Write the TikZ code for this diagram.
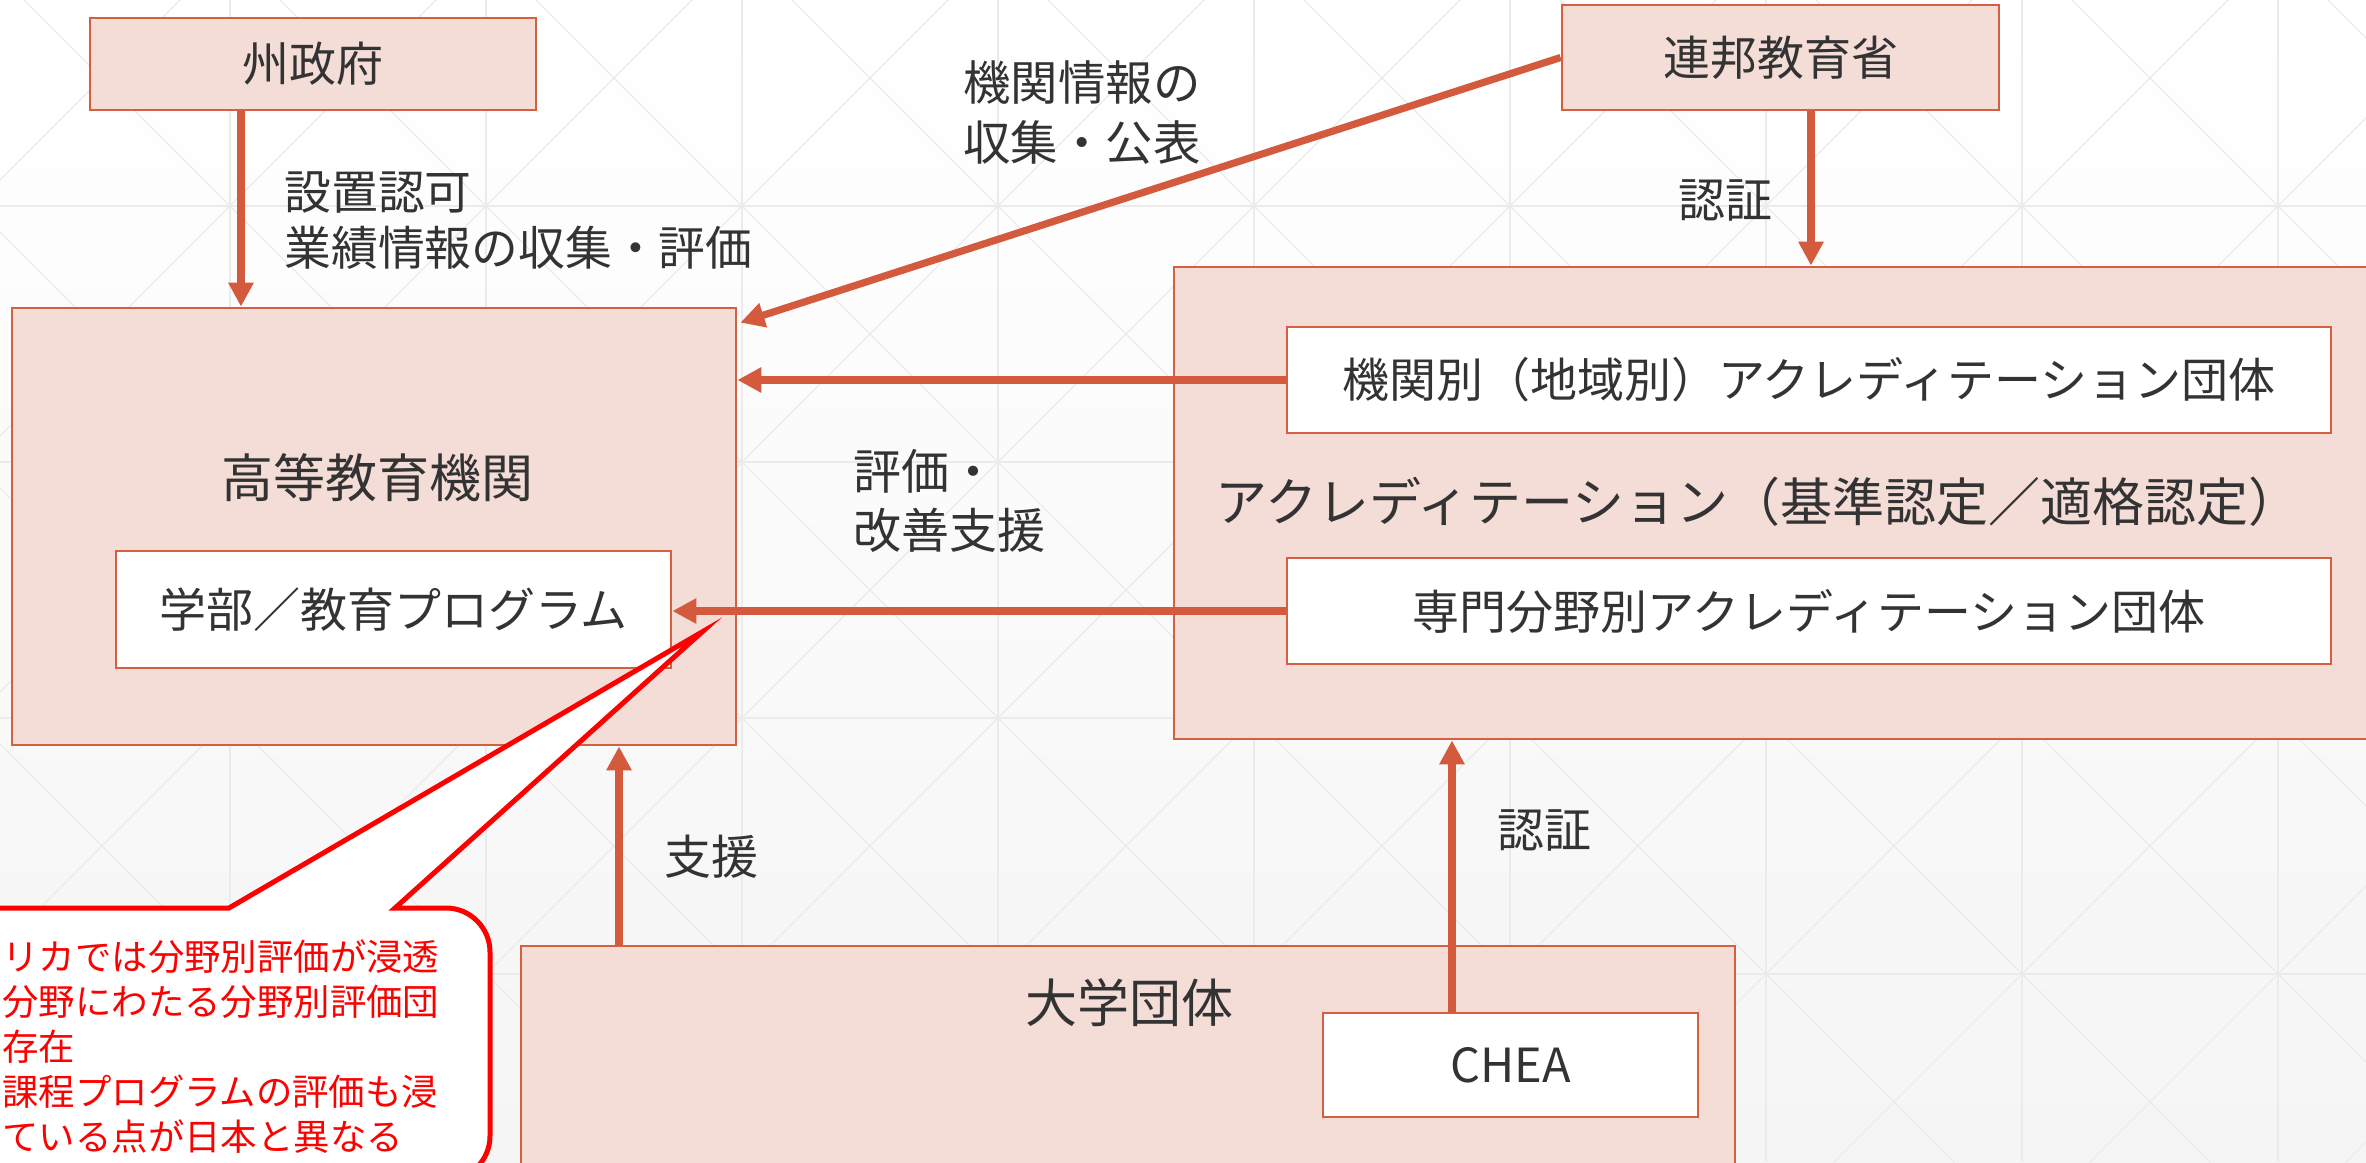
\documentclass[tikz,border=0pt]{standalone}
\usepackage{fontspec}
\setmainfont{Noto Sans CJK JP}
\usetikzlibrary{arrows.meta,calc}
\definecolor{boxfill}{HTML}{F4DDD7}
\definecolor{boxline}{HTML}{D5603F}
\definecolor{arrc}{HTML}{D35A3C}
\definecolor{txt}{HTML}{333333}
\definecolor{gridc}{HTML}{EBEBEB}
\definecolor{calred}{HTML}{FF0000}
\definecolor{bgbot}{HTML}{F5F5F5}
\tikzset{
  pinkbox/.style={draw=boxline, line width=1.4pt, fill=boxfill, inner sep=0pt, text=txt},
  whitebox/.style={draw=boxline, line width=1.4pt, fill=white, inner sep=0pt, text=txt},
  lbl/.style={text=txt, inner sep=0pt, align=left},
  arr/.style={draw=arrc, line width=3.6pt, -{Triangle[length=12pt,width=12pt]}},
  gridln/.style={draw=gridc, line width=0.6pt},
  fa/.style={font=\fontsize{23.5pt}{28pt}\selectfont},
  fb/.style={font=\fontsize{26pt}{30pt}\selectfont},
}
\begin{document}
\begin{tikzpicture}[x=0.5pt,y=-0.5pt]
\useasboundingbox (0,0) rectangle (2366,1162);
\clip (0,0) rectangle (2366,1162);
% background
\shade[top color=white, bottom color=bgbot] (0,0) rectangle (2366,1162);
\foreach \i in {0,...,8} \draw[gridln] ({230+256*\i},0) -- ({230+256*\i},1162);
\foreach \j in {0,...,3} \draw[gridln] (0,{206+256*\j}) -- (2366,{206+256*\j});
\foreach \k in {-10,...,4} \draw[gridln] (-300,{-68+256*\k}) -- (2700,{2932+256*\k});
\foreach \k in {0,...,14} \draw[gridln] (-300,{480+256*\k}) -- (2700,{-2520+256*\k});

% boxes
\node[pinkbox, fa, minimum width=223pt, minimum height=46pt] (shu) at (313,64) {州政府};
\node[pinkbox, fa, minimum width=218.5pt, minimum height=52.5pt] (renpo) at (1780.5,57.5) {連邦教育省};
\node[pinkbox, minimum width=362pt, minimum height=218.5pt] (koto) at (374,526.5) {};
\node[lbl, fb] (kotoT) at (377,478) {高等教育機関};
\node[whitebox, fa, minimum width=277.5pt, minimum height=58.5pt] (gakubu) at (393.5,609.5) {学部／教育プログラム};
\node[pinkbox, minimum width=608pt, minimum height=236pt] (accr) at (1782,503) {};
\node[whitebox, fa, minimum width=522pt, minimum height=53pt] (kikan) at (1809,380) {機関別（地域別）アクレディテーション団体};
\node[lbl, fb] (accrT) at (1758,502) {アクレディテーション（基準認定／適格認定）};
\node[whitebox, fa, minimum width=522pt, minimum height=53pt] (senmon) at (1809,611) {専門分野別アクレディテーション団体};
\node[pinkbox, minimum width=607pt, minimum height=132pt] (daigaku) at (1128,1078) {};
\node[lbl, fb] (daigakuT) at (1129,1003) {大学団体};
\node[whitebox, fa, minimum width=187.5pt, minimum height=52pt] (chea) at (1510.5,1065) {CHEA};

% connectors
\coordinate (c1) at (241,0);
\coordinate (c2) at (619,0);
\coordinate (c3) at (1452,0);
\coordinate (c4) at (1811,0);
\draw[arr] (shu.south -| c1) -- (koto.north -| c1);
\draw[arr] (renpo.west) -- ($(koto.north east)+(3,16)$);
\draw[arr] (renpo.south -| c4) -- (accr.north -| c4);
\draw[arr] (kikan.west) -- (kikan.west -| koto.east);
\draw[arr] (senmon.west) -- (senmon.west -| gakubu.east);
\draw[arr] (daigaku.north -| c2) -- (koto.south -| c2);
\draw[arr] (chea.north -| c3) -- (accr.south -| c3);

% labels
\node[lbl, anchor=west, font=\fontsize{23.4pt}{28pt}\selectfont] (l1) at (284,221) {設置認可\\業績情報の収集・評価};
\node[lbl, anchor=west, font=\fontsize{23.7pt}{30pt}\selectfont] (l2) at (963,113) {機関情報の\\収集・公表};
\node[lbl, anchor=west, fa] (l3) at (1678,200) {認証};
\node[lbl, anchor=west, font=\fontsize{24pt}{29.5pt}\selectfont] (l4) at (853,501) {評価・\\改善支援};
\node[lbl, anchor=west, fa] (l5) at (664,857) {支援};
\node[lbl, anchor=west, fa] (l6) at (1497,830) {認証};

% callout
\draw[draw=calred, line width=2.5pt, fill=white, line join=miter]
  (-60,1180) -- (-60,908) -- (229,908) -- (702,632) -- (395,908)
  [rounded corners=22pt] -- (490,908) -- (490,1180) [sharp corners] -- cycle;
\node[anchor=north west, text=calred, align=left, inner sep=0pt,
  font=\fontsize{18.2pt}{22.5pt}\selectfont] (note) at (2,939)
  {リカでは分野別評価が浸透\\分野にわたる分野別評価団\\存在\\課程プログラムの評価も浸\\ている点が日本と異なる};
\end{tikzpicture}
\end{document}
